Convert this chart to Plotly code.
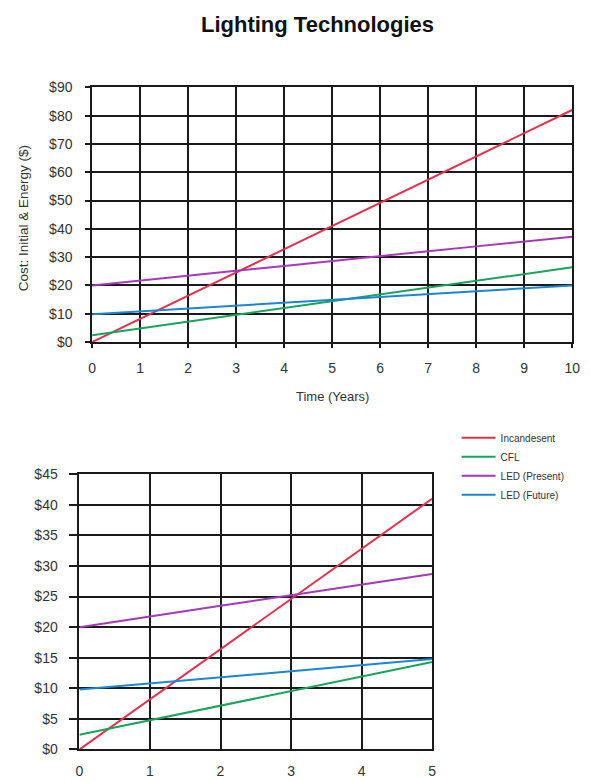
import plotly.graph_objects as go

W, H = 590, 781

# Years shown on each panel
years_10 = [0, 1, 2, 3, 4, 5, 6, 7, 8, 9, 10]
years_5 = [0, 1, 2, 3, 4, 5]

# Cumulative cost (initial + energy), dollars
incandesent = [0, 8.2, 16.4, 24.6, 32.8, 41.0, 49.2, 57.4, 65.6, 73.8, 82.0]
cfl = [2.4, 4.8, 7.2, 9.6, 12.0, 14.3, 16.7, 19.1, 21.5, 23.9, 26.4]
led_present = [20.0, 21.8, 23.5, 25.2, 26.9, 28.7, 30.4, 32.1, 33.8, 35.5, 37.2]
led_future = [9.8, 10.8, 11.8, 12.8, 13.8, 14.8, 15.8, 16.8, 17.8, 18.9, 20.0]

series_names = ["Incandesent", "CFL", "LED (Present)", "LED (Future)"]
series_values = [incandesent, cfl, led_present, led_future]
series_colors = ["#e2314f", "#19a35c", "#a33bb5", "#1b86d2"]

top_yticks = [0, 10, 20, 30, 40, 50, 60, 70, 80, 90]
bottom_yticks = [0, 5, 10, 15, 20, 25, 30, 35, 40, 45]

FONT = "Liberation Sans, Arial, sans-serif"
GRID = "#1a1a1a"
TEXT = "#333333"


def px_x(p):
    return p / W


def px_y(p):
    return 1 - p / H


fig = go.Figure()

for name, vals, color in zip(series_names, series_values, series_colors):
    fig.add_trace(go.Scatter(
        x=years_10, y=vals, mode="lines", name=name,
        line=dict(color=color, width=2), xaxis="x", yaxis="y",
        showlegend=True, legendgroup=name,
    ))
    n5 = len(years_5)
    fig.add_trace(go.Scatter(
        x=years_5, y=vals[:n5], mode="lines", name=name,
        line=dict(color=color, width=2), xaxis="x2", yaxis="y2",
        showlegend=False, legendgroup=name,
    ))

axis_common = dict(
    showgrid=True, gridcolor=GRID, gridwidth=1.8,
    showline=True, linecolor=GRID, linewidth=1.8, mirror=True,
    zeroline=False, ticks="outside", tickcolor=GRID, tickwidth=1.8,
    tickfont=dict(family=FONT, size=14, color=TEXT),
    fixedrange=True,
)

fig.update_layout(
    width=W, height=H,
    margin=dict(l=0, r=0, t=0, b=0),
    paper_bgcolor="white", plot_bgcolor="white",
    font=dict(family=FONT, color=TEXT),
    xaxis=dict(
        domain=[px_x(90), px_x(580)], range=[0, 10],
        tickvals=years_10, ticklen=4, ticklabelstandoff=8,
        anchor="y", **axis_common,
    ),
    yaxis=dict(
        domain=[px_y(341), px_y(81)], range=[0, 90],
        tickvals=top_yticks, ticktext=[f"${v}" for v in top_yticks],
        ticklen=5, ticklabelstandoff=10, anchor="x", **axis_common,
    ),
    xaxis2=dict(
        domain=[px_x(77), px_x(437)], range=[0, 5],
        tickvals=years_5, ticklen=0, ticklabelstandoff=8,
        anchor="y2", **axis_common,
    ),
    yaxis2=dict(
        domain=[px_y(757), px_y(476)], range=[0, 45],
        tickvals=bottom_yticks, ticktext=[f"${v}" for v in bottom_yticks],
        ticklen=9, ticklabelstandoff=8, anchor="x2", **axis_common,
    ),
    legend=dict(
        x=px_x(462), y=px_y(424), xanchor="left", yanchor="top",
        font=dict(family=FONT, size=10, color=TEXT),
        bgcolor="rgba(0,0,0,0)", borderwidth=0, tracegroupgap=0,
        itemwidth=34,
    ),
    annotations=[
        dict(text="<b>Lighting Technologies</b>", x=px_x(320), y=px_y(17),
             xref="paper", yref="paper", showarrow=False,
             xanchor="center", yanchor="middle",
             font=dict(family=FONT, size=22, color="#111111")),
        dict(text="Cost: Initial & Energy ($)", x=px_x(20), y=px_y(215),
             xref="paper", yref="paper", showarrow=False, textangle=-90,
             xanchor="center", yanchor="middle",
             font=dict(family=FONT, size=13.5, color=TEXT)),
        dict(text="Time (Years)", x=px_x(335), y=px_y(397),
             xref="paper", yref="paper", showarrow=False,
             xanchor="center", yanchor="middle",
             font=dict(family=FONT, size=13, color=TEXT)),
    ],
)

fig.write_html("out.html")
